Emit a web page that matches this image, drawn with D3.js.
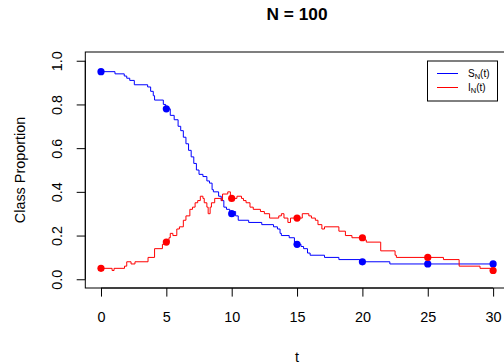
<!DOCTYPE html>
<html>
<head>
<meta charset="utf-8">
<script src="https://d3js.org/d3.v7.min.js"></script>
<style>
  body { margin: 0; background: #fff; }
  text { font-family: "Liberation Sans", Arial, sans-serif; }
</style>
</head>
<body>
<div id="chart"></div>
<script>
// step data (N = 100, so steps of 0.01)
var sTimes = [0, 1.07, 1.78, 1.97, 2.2, 2.55, 3.57, 3.8, 4.0, 4.1, 4.77, 4.95, 5.3, 5.6, 5.9, 6.1,
  6.3, 6.5, 6.7, 6.9, 7.1, 7.3, 7.5, 7.8, 8.1, 8.3, 8.5, 8.6, 9.0, 9.2, 9.4, 9.6, 9.85, 10.3,
  10.5, 11.3, 12.3, 13.2, 13.5, 13.7, 13.8, 14.4, 14.8, 15.0, 15.3, 15.5, 15.8, 16.0, 17.1,
  18.2, 19.8, 22.1, 30];
var sValues = [0.95, 0.94, 0.93, 0.92, 0.91, 0.89, 0.88, 0.86, 0.84, 0.82, 0.80, 0.78, 0.75, 0.73,
  0.70, 0.68, 0.65, 0.62, 0.59, 0.56, 0.53, 0.50, 0.48, 0.47, 0.45, 0.44, 0.41, 0.40, 0.38,
  0.36, 0.33, 0.32, 0.31, 0.29, 0.27, 0.26, 0.25, 0.24, 0.23, 0.21, 0.20, 0.19, 0.17, 0.16,
  0.15, 0.14, 0.12, 0.11, 0.10, 0.09, 0.08, 0.07, 0.07];

var iTimes = [0, 0.85, 1.0, 1.8, 1.97, 2.3, 2.6, 3.6, 4.1, 4.7, 4.95, 5.2, 5.3, 5.5, 5.8, 6.0,
  6.3, 6.5, 6.8, 7.0, 7.2, 7.4, 7.6, 7.8, 7.9, 8.1, 8.2, 8.35, 8.45, 8.7, 9.2, 9.3, 9.7, 9.9,
  10.4, 10.75, 10.9, 11.1, 11.4, 11.65, 12.2, 12.5, 12.9, 13.6, 13.8, 14.0, 14.3, 14.5, 15.4,
  15.9, 16.1, 16.4, 16.6, 16.9, 17.1, 18.2, 18.7, 19.2, 20.2, 20.3, 21.4, 22.5, 22.6, 26.2,
  27.4, 29.0, 29.8, 30];
var iValues = [0.05, 0.04, 0.05, 0.06, 0.08, 0.07, 0.08, 0.10, 0.14, 0.16, 0.17, 0.19, 0.21, 0.20,
  0.23, 0.24, 0.27, 0.29, 0.32, 0.33, 0.35, 0.36, 0.38, 0.37, 0.35, 0.33, 0.30, 0.33, 0.35,
  0.37, 0.36, 0.39, 0.40, 0.37, 0.38, 0.37, 0.36, 0.35, 0.33, 0.32, 0.31, 0.30, 0.28, 0.29,
  0.30, 0.28, 0.26, 0.28, 0.30, 0.29, 0.28, 0.27, 0.25, 0.23, 0.24, 0.22, 0.20, 0.19, 0.18,
  0.17, 0.13, 0.11, 0.10, 0.09, 0.06, 0.05, 0.04, 0.04];

// dots at every 5 time units
var dotTimes = [0, 5, 10, 15, 20, 25, 30];
var sDots = [0.95, 0.78, 0.30, 0.16, 0.08, 0.07, 0.07];
var iDots = [0.05, 0.17, 0.37, 0.28, 0.19, 0.10, 0.04];

var xTicks = [0, 5, 10, 15, 20, 25, 30];
var yTicks = [0, 0.2, 0.4, 0.6, 0.8, 1.0];

var width = 504, height = 364;
var fontFam = "Liberation Sans, Arial, sans-serif";

var svg = d3.select("#chart")
  .append("svg")
  .attr("width", width)
  .attr("height", height);

// R style 4% padding on both axes
var x = d3.scaleLinear()
  .domain([-1.2, 31.2])
  .range([85.3, 508.8]);
var y = d3.scaleLinear()
  .domain([-0.04, 1.04])
  .range([288, 52]);

// plot box
svg.append("rect")
  .attr("x", x(-1.2))
  .attr("y", y(1.04))
  .attr("width", x(31.2) - x(-1.2))
  .attr("height", y(-0.04) - y(1.04))
  .attr("fill", "none")
  .attr("stroke", "#000")
  .attr("stroke-width", 1);

// x axis
var gx = svg.append("g")
  .attr("transform", "translate(0," + y(-0.04) + ")")
  .call(d3.axisBottom(x).tickValues(xTicks).tickSize(8.6).tickPadding(15).tickFormat(d3.format("d")));
gx.select(".domain").attr("d", "M" + x(0) + ",0H" + x(30));
gx.selectAll("text").attr("font-size", 14.4).attr("fill", "#000").attr("font-family", fontFam);

// y axis, labels turned like R does
var gy = svg.append("g")
  .attr("transform", "translate(" + x(-1.2) + ",0)")
  .call(d3.axisLeft(y).tickValues(yTicks).tickSize(8.6).tickFormat(d3.format(".1f")));
gy.select(".domain").attr("d", "M0," + y(0) + "V" + y(1));
gy.selectAll(".tick text")
  .attr("font-size", 14.4).attr("fill", "#000").attr("font-family", fontFam)
  .attr("x", null).attr("dy", null)
  .attr("text-anchor", "middle")
  .attr("transform", "translate(-23,0) rotate(-90)");

// lines
var line = d3.line()
  .curve(d3.curveStepAfter)
  .x(function(d) { return x(d[0]); })
  .y(function(d) { return y(d[1]); });

svg.append("path")
  .datum(sTimes.map(function(t, i) { return [t, sValues[i]]; }))
  .attr("d", line)
  .attr("fill", "none")
  .attr("stroke", "#0000ff")
  .attr("stroke-width", 1);

svg.append("path")
  .datum(iTimes.map(function(t, i) { return [t, iValues[i]]; }))
  .attr("d", line)
  .attr("fill", "none")
  .attr("stroke", "#ff0000")
  .attr("stroke-width", 1);

// dots
svg.selectAll(".sdot")
  .data(dotTimes)
  .enter().append("circle")
  .attr("cx", function(d) { return x(d); })
  .attr("cy", function(d, i) { return y(sDots[i]); })
  .attr("r", 3.6)
  .attr("fill", "#0000ff");

svg.selectAll(".idot")
  .data(dotTimes)
  .enter().append("circle")
  .attr("cx", function(d) { return x(d); })
  .attr("cy", function(d, i) { return y(iDots[i]); })
  .attr("r", 3.6)
  .attr("fill", "#ff0000");

// titles
svg.append("text")
  .attr("x", 297).attr("y", 19.5)
  .attr("text-anchor", "middle")
  .attr("font-size", 17.3).attr("font-weight", "bold")
  .text("N = 100");

svg.append("text")
  .attr("x", 297).attr("y", 361.5)
  .attr("text-anchor", "middle")
  .attr("font-size", 14.4)
  .text("t");

svg.append("text")
  .attr("transform", "translate(25,170) rotate(-90)")
  .attr("text-anchor", "middle")
  .attr("font-size", 14.4)
  .text("Class Proportion");

// legend
var legend = svg.append("g");
legend.append("rect")
  .attr("x", 427.5).attr("y", 61)
  .attr("width", 70).attr("height", 40)
  .attr("fill", "#fff").attr("stroke", "#000");

var legendItems = [
  { name: "S", color: "#0000ff" },
  { name: "I", color: "#ff0000" }
];
legendItems.forEach(function(d, i) {
  var ly = 73.5 + i * 14;
  legend.append("line")
    .attr("x1", 437).attr("x2", 458)
    .attr("y1", ly).attr("y2", ly)
    .style("stroke", d.color)
    .style("stroke-width", 1);
  var t = legend.append("text")
    .attr("x", 468).attr("y", ly + 3.5)
    .attr("font-size", 10);
  t.append("tspan").text(d.name);
  t.append("tspan").attr("font-size", 7.5).attr("dy", 2).text("N");
  t.append("tspan").attr("dy", -2).text("(t)");
});
</script>
</body>
</html>
